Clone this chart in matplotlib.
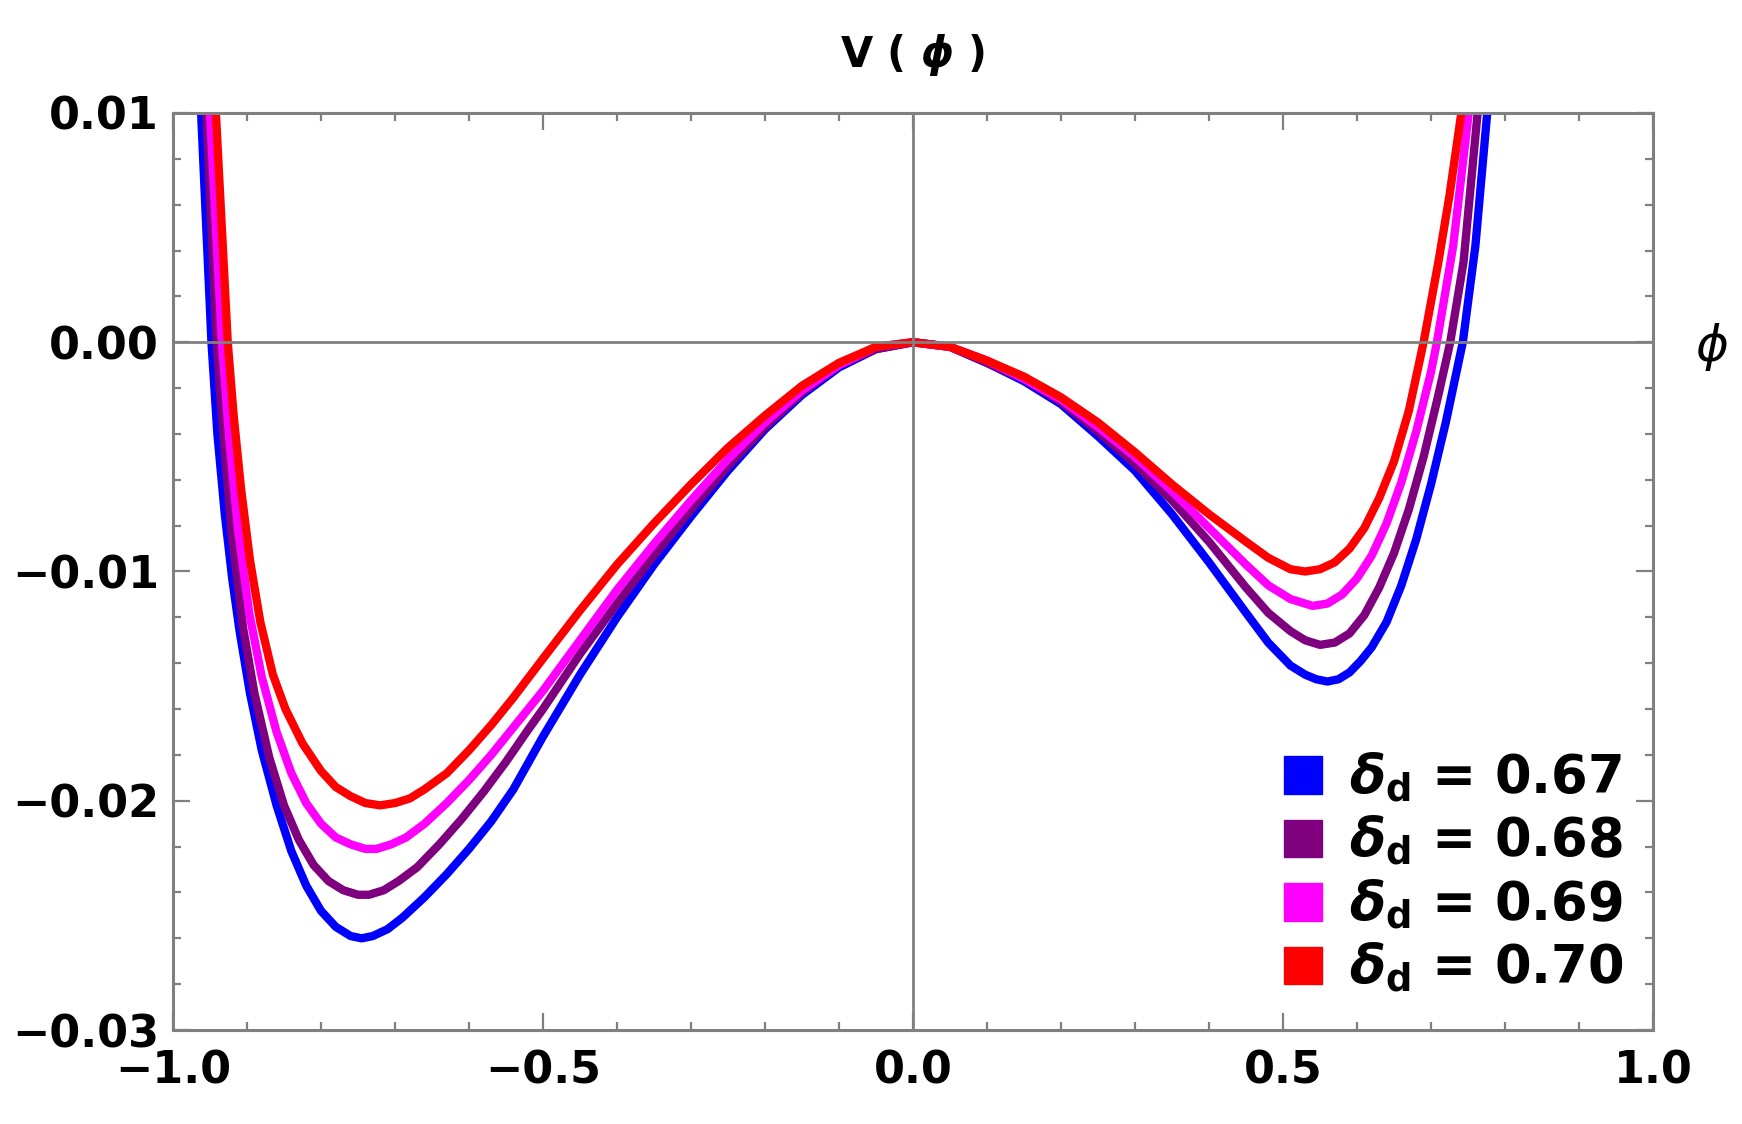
import matplotlib.pyplot as plt
from matplotlib.patches import Patch
from matplotlib.ticker import MultipleLocator

# values, one list pair per delta_d
phi_067 = [-0.962, -0.955, -0.948, -0.940, -0.930, -0.920, -0.910, -0.896, -0.880, -0.860,
           -0.840, -0.820, -0.800, -0.780, -0.760, -0.745, -0.730, -0.710, -0.690, -0.660,
           -0.630, -0.600, -0.570, -0.540, -0.500, -0.450, -0.400, -0.350, -0.300, -0.250,
           -0.200, -0.150, -0.100, -0.050, 0.000, 0.050, 0.100, 0.150, 0.200, 0.250,
           0.300, 0.350, 0.400, 0.450, 0.480, 0.510, 0.530, 0.545, 0.560, 0.575, 0.590,
           0.605, 0.620, 0.640, 0.660, 0.680, 0.700, 0.720, 0.743, 0.760, 0.776]
v_067 = [0.0100, 0.0050, 0.0000, -0.0040, -0.0075, -0.0103, -0.0126, -0.0153, -0.0178, -0.0202,
         -0.0222, -0.0237, -0.0248, -0.0255, -0.0259, -0.0260, -0.0259, -0.0256, -0.0251, -0.0242,
         -0.0232, -0.0221, -0.0209, -0.0195, -0.0172, -0.0145, -0.0120, -0.0097, -0.0076, -0.0056,
         -0.0038, -0.0023, -0.0011, -0.0003, 0.0000, -0.0002, -0.0009, -0.0017, -0.0027, -0.0041,
         -0.0056, -0.0075, -0.0096, -0.0118, -0.0131, -0.0141, -0.0145, -0.0147, -0.0148, -0.0147,
         -0.0144, -0.0139, -0.0133, -0.0122, -0.0106, -0.0086, -0.0062, -0.0035, 0.0000, 0.0042,
         0.0100]

phi_068 = [-0.955, -0.948, -0.941, -0.932, -0.920, -0.905, -0.890, -0.870, -0.850, -0.830,
           -0.810, -0.790, -0.770, -0.750, -0.735, -0.715, -0.695, -0.670, -0.640, -0.610,
           -0.580, -0.550, -0.520, -0.500, -0.450, -0.400, -0.350, -0.300, -0.250, -0.200,
           -0.150, -0.100, -0.050, 0.000, 0.050, 0.100, 0.150, 0.200, 0.250, 0.300,
           0.350, 0.400, 0.450, 0.480, 0.510, 0.530, 0.550, 0.570, 0.590, 0.610,
           0.630, 0.650, 0.670, 0.690, 0.710, 0.726, 0.744, 0.763]
v_068 = [0.0100, 0.0050, 0.0000, -0.0040, -0.0085, -0.0125, -0.0153, -0.0181, -0.0202, -0.0217,
         -0.0228, -0.0235, -0.0239, -0.0241, -0.0241, -0.0239, -0.0235, -0.0229, -0.0219, -0.0208,
         -0.0196, -0.0183, -0.0169, -0.0160, -0.0136, -0.0114, -0.0093, -0.0073, -0.0054, -0.0037,
         -0.0022, -0.0010, -0.0003, 0.0000, -0.0002, -0.0009, -0.0016, -0.0026, -0.0039, -0.0053,
         -0.0069, -0.0087, -0.0107, -0.0118, -0.0126, -0.0130, -0.0132, -0.0131, -0.0127, -0.0119,
         -0.0107, -0.0092, -0.0073, -0.0050, -0.0023, 0.0000, 0.0035, 0.0100]

phi_069 = [-0.950, -0.942, -0.934, -0.924, -0.912, -0.897, -0.880, -0.860, -0.840, -0.820,
           -0.800, -0.780, -0.760, -0.740, -0.725, -0.705, -0.685, -0.660, -0.630, -0.600,
           -0.570, -0.540, -0.500, -0.450, -0.400, -0.350, -0.300, -0.250, -0.200, -0.150,
           -0.100, -0.050, 0.000, 0.050, 0.100, 0.150, 0.200, 0.250, 0.300, 0.350,
           0.400, 0.450, 0.480, 0.510, 0.540, 0.560, 0.580, 0.600, 0.620, 0.640,
           0.660, 0.680, 0.700, 0.708, 0.730, 0.751]
v_069 = [0.0100, 0.0050, 0.0000, -0.0042, -0.0082, -0.0118, -0.0146, -0.0170, -0.0188, -0.0201,
         -0.0210, -0.0216, -0.0219, -0.0221, -0.0221, -0.0219, -0.0216, -0.0210, -0.0201, -0.0191,
         -0.0180, -0.0168, -0.0152, -0.0130, -0.0108, -0.0088, -0.0069, -0.0051, -0.0035, -0.0021,
         -0.0010, -0.0002, 0.0000, -0.0002, -0.0008, -0.0016, -0.0025, -0.0037, -0.0050, -0.0065,
         -0.0081, -0.0097, -0.0106, -0.0112, -0.0115, -0.0114, -0.0110, -0.0103, -0.0093, -0.0079,
         -0.0061, -0.0039, -0.0013, 0.0000, 0.0042, 0.0100]

phi_070 = [-0.942, -0.934, -0.926, -0.918, -0.908, -0.896, -0.882, -0.865, -0.848, -0.825,
           -0.800, -0.780, -0.760, -0.740, -0.720, -0.700, -0.680, -0.660, -0.630, -0.600,
           -0.570, -0.540, -0.500, -0.450, -0.400, -0.350, -0.300, -0.250, -0.200, -0.150,
           -0.100, -0.050, 0.000, 0.050, 0.100, 0.150, 0.200, 0.250, 0.300, 0.350,
           0.400, 0.450, 0.480, 0.510, 0.530, 0.550, 0.570, 0.590, 0.610, 0.630,
           0.650, 0.670, 0.690, 0.710, 0.725, 0.741]
v_070 = [0.0100, 0.0050, 0.0000, -0.0032, -0.0064, -0.0095, -0.0122, -0.0145, -0.0160, -0.0175,
         -0.0187, -0.0194, -0.0198, -0.0201, -0.0202, -0.0201, -0.0199, -0.0195, -0.0188, -0.0178,
         -0.0167, -0.0155, -0.0138, -0.0117, -0.0097, -0.0079, -0.0062, -0.0046, -0.0032, -0.0019,
         -0.0009, -0.0002, 0.0000, -0.0002, -0.0008, -0.0015, -0.0024, -0.0035, -0.0048, -0.0062,
         -0.0075, -0.0087, -0.0094, -0.0099, -0.0100, -0.0099, -0.0096, -0.0090, -0.0081, -0.0068,
         -0.0052, -0.0030, 0.0000, 0.0035, 0.0064, 0.0100]

deltas = ["0.67", "0.68", "0.69", "0.70"]
colors = ["#0000ff", "#7f007f", "#ff00ff", "#ff0000"]

x_ticks = [-1.0, -0.5, 0.0, 0.5, 1.0]
y_ticks = [0.01, 0.00, -0.01, -0.02, -0.03]


def plot_data(figure_name):
    plt.rcParams["font.family"] = ["DejaVu Sans"]
    plt.rcParams["font.weight"] = "bold"
    plt.rcParams["mathtext.fontset"] = "custom"
    plt.rcParams["mathtext.it"] = "DejaVu Sans:italic:bold"
    plt.rcParams["mathtext.bf"] = "DejaVu Sans:bold"
    plt.rcParams["mathtext.rm"] = "DejaVu Sans:bold"

    grey = "#808080"
    fig = plt.figure(figsize=(17.42, 11.24), dpi=100)
    ax = fig.add_axes([0.0993, 0.0836, 0.8496, 0.8159])

    series = [(phi_067, v_067), (phi_068, v_068), (phi_069, v_069), (phi_070, v_070)]
    for (phi, v), color in zip(series, colors):
        ax.plot(phi, v, color=color, lw=6, solid_capstyle="round",
                solid_joinstyle="round", zorder=2)

    ax.axhline(0, color=grey, lw=2.0, zorder=3)
    ax.axvline(0, color=grey, lw=2.0, zorder=3)

    ax.set_xlim(-1, 1)
    ax.set_ylim(-0.03, 0.01)
    ax.set_xticks(x_ticks)
    ax.set_yticks(y_ticks)
    ax.xaxis.set_minor_locator(MultipleLocator(0.1))
    ax.yaxis.set_minor_locator(MultipleLocator(0.002))
    ax.tick_params(which="both", direction="in", top=True, right=True,
                   color=grey, width=1.6, labelsize=32)
    ax.tick_params(which="major", length=12)
    ax.tick_params(which="minor", length=6)
    ax.tick_params(axis="x", which="major", pad=14)
    ax.tick_params(axis="y", which="major", pad=10)
    for lab in ax.get_xticklabels() + ax.get_yticklabels():
        lab.set_fontweight("bold")
    for sp in ax.spines.values():
        sp.set_color(grey)
        sp.set_linewidth(2.2)

    # title: bold V, italic phi
    ax.text(0.5, 1.063, r"V ( $\phi$ )", transform=ax.transAxes,
            ha="center", va="center", fontsize=30, fontweight="bold")
    ax.text(1.04, 0.745, "\u03d5", transform=ax.transAxes, ha="center", va="center",
            fontsize=36, fontstyle="italic", fontweight="normal")

    handles = [Patch(facecolor=c, edgecolor=c) for c in colors]
    labels = [r"$\delta_{\mathbf{d}}$ = " + d for d in deltas]
    ax.legend(handles, labels, loc="lower right", bbox_to_anchor=(0.98, 0.038),
              frameon=False, handlelength=0.72, handleheight=0.72,
              handletextpad=0.5, labelspacing=0.18, borderpad=0, borderaxespad=0,
              prop={"weight": "bold", "size": 38})

    fig.savefig(figure_name)


if __name__ == "__main__":
    plot_data("out.png")
